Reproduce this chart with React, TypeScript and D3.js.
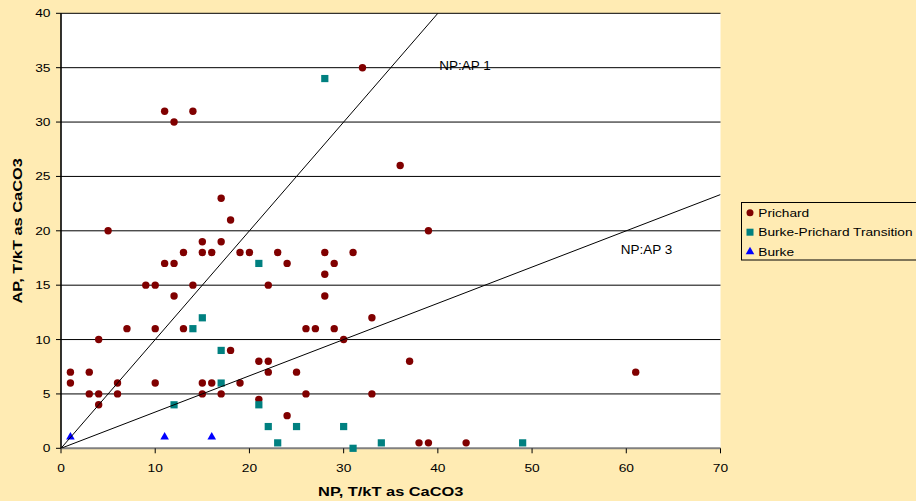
import React from "react";
import * as d3 from "d3";

const prichardNP = [1,1,3,3,4,4,4,5,6,6,7,9,10,10,10,11,11,12,12,12,13,13,14,14,15,15,15,15,16,16,17,17,17,18,18,19,19,20,21,21,22,22,22,23,24,24,25,26,26,27,28,28,28,29,29,30,31,32,33,33,36,37,38,39,39,43,61];
const prichardAP = [7,6,7,5,5,4,10,20,6,5,11,15,15,11,6,31,17,30,17,14,18,11,31,15,19,18,6,5,18,6,23,19,5,21,9,18,6,18,8,4.5,15,8,7,18,17,3,7,11,5,11,18,16,14,17,11,10,18,35,12,5,26,8,0.5,0.5,20,0.5,7];
const transitionNP = [12,14,15,17,17,21,21,22,23,25,28,30,31,34,49];
const transitionAP = [4,11,12,9,6,17,4,2,0.5,2,34,2,0,0.5,0.5];
const burkeNP = [1,11,16];
const burkeAP = [1,1,1];
const xTicks = [0,10,20,30,40,50,60,70];
const yTicks = [0,5,10,15,20,25,30,35,40];
const ratioLines = [
  { ratio: 1, label: "NP:AP 1", labelNP: 40.15, labelAP: 34.8 },
  { ratio: 3, label: "NP:AP 3", labelNP: 59.4, labelAP: 17.9 },
];
const seriesNames = ["Prichard", "Burke-Prichard Transition", "Burke"];

const W = 916, H = 501;
const BG = "#FFEBB3";
const RED = "#800000", TEAL = "#008080", BLUE = "#0000FF";
const FONT = "'Liberation Sans', Arial, sans-serif";

const x = d3.scaleLinear().domain([0, 70]).range([61, 720.5]);
const y = d3.scaleLinear().domain([0, 40]).range([448.3, 13.3]);

function SText({ x0, y0, sx = 1.25, size = 11, anchor = "start", weight = "normal", rotate = 0, children }: any) {
  return (
    <text
      transform={`translate(${x0},${y0}) rotate(${rotate}) scale(${sx},1)`}
      fontFamily={FONT}
      fontSize={size}
      fontWeight={weight}
      textAnchor={anchor}
      fill="#000"
    >
      {children}
    </text>
  );
}

const tri = d3.symbol().type(d3.symbolTriangle).size(32);

export default function App() {
  const x0 = x(0), x1 = x(70), y0 = y(0), y1 = y(40);
  return (
    <svg width={W} height={H} style={{ position: "absolute", left: 0, top: 0 }}>
      <defs>
        <clipPath id="plot">
          <rect x={x0} y={y1} width={x1 - x0} height={y0 - y1} />
        </clipPath>
      </defs>
      <rect x={0} y={0} width={W} height={H} fill={BG} />
      <rect x={x0} y={y1} width={x1 - x0} height={y0 - y1} fill="#fff" />
      {yTicks.filter((t) => t > 0).map((t) => (
        <line key={"g" + t} x1={x0} x2={x1} y1={y(t)} y2={y(t)} stroke="#000" strokeWidth={1} />
      ))}
      {/* axes */}
      <line x1={x0} x2={x0} y1={y1} y2={y0} stroke="#000" strokeWidth={1.6} />
      <line x1={x0} x2={x1} y1={y0} y2={y0} stroke="#808080" strokeWidth={2} />
      {yTicks.map((t) => (
        <g key={"yt" + t}>
          <line x1={x0 - 5} x2={x0} y1={y(t)} y2={y(t)} stroke="#000" strokeWidth={1} />
          <SText x0={50.5} y0={y(t) + 4} anchor="end">{t}</SText>
        </g>
      ))}
      {xTicks.map((t) => (
        <g key={"xt" + t}>
          <line x1={x(t)} x2={x(t)} y1={y0} y2={y0 + 5} stroke="#000" strokeWidth={1} />
          <SText x0={x(t)} y0={471.5} anchor="middle">{t}</SText>
        </g>
      ))}
      {/* points */}
      <g>
        {prichardNP.map((v, i) => (
          <circle key={"p" + i} cx={x(v)} cy={y(prichardAP[i])} r={3.7} fill={RED} />
        ))}
        {transitionNP.map((v, i) => (
          <rect key={"t" + i} x={x(v) - 3.6} y={y(transitionAP[i]) - 3.6} width={7.2} height={7.2} fill={TEAL} />
        ))}
        {burkeNP.map((v, i) => (
          <path key={"b" + i} d={tri() as string} transform={`translate(${x(v)},${y(burkeAP[i]) - 0.5})`} fill={BLUE} />
        ))}
      </g>
      {/* ratio lines */}
      <g clipPath="url(#plot)">
        {ratioLines.map((r) => {
          const line = d3.line<number>().x((d) => x(d)).y((d) => y(d / r.ratio));
          return <path key={r.label} d={line([0, 70]) as string} stroke="#000" strokeWidth={1} fill="none" />;
        })}
      </g>
      {ratioLines.map((r) => (
        <SText key={"l" + r.label} x0={x(r.labelNP)} y0={y(r.labelAP) + 0.5} size={13.5} sx={1}>{r.label}</SText>
      ))}
      {/* axis titles */}
      <SText x0={(x0 + x1) / 2} y0={495.5} anchor="middle" weight="bold" size={12.6} sx={1.3}>NP, T/kT as CaCO3</SText>
      <SText x0={22.3} y0={(y0 + y1) / 2} anchor="middle" weight="bold" size={12.6} sx={1.3} rotate={-90}>AP, T/kT as CaCO3</SText>
      {/* legend */}
      <rect x={741.5} y={202.5} width={190} height={57.5} fill={BG} stroke="#000" strokeWidth={1} />
      {seriesNames.map((name, i) => {
        const cy = 212.7 + i * 19.5;
        return (
          <g key={name}>
            {i === 0 && <circle cx={750} cy={cy} r={3.5} fill={RED} />}
            {i === 1 && <rect x={746.5} y={cy - 3.5} width={7} height={7} fill={TEAL} />}
            {i === 2 && <path d={tri() as string} transform={`translate(750,${cy})`} fill={BLUE} />}
            <SText x0={758.3} y0={cy + 4} size={11.7} sx={1.17}>{name}</SText>
          </g>
        );
      })}
    </svg>
  );
}
